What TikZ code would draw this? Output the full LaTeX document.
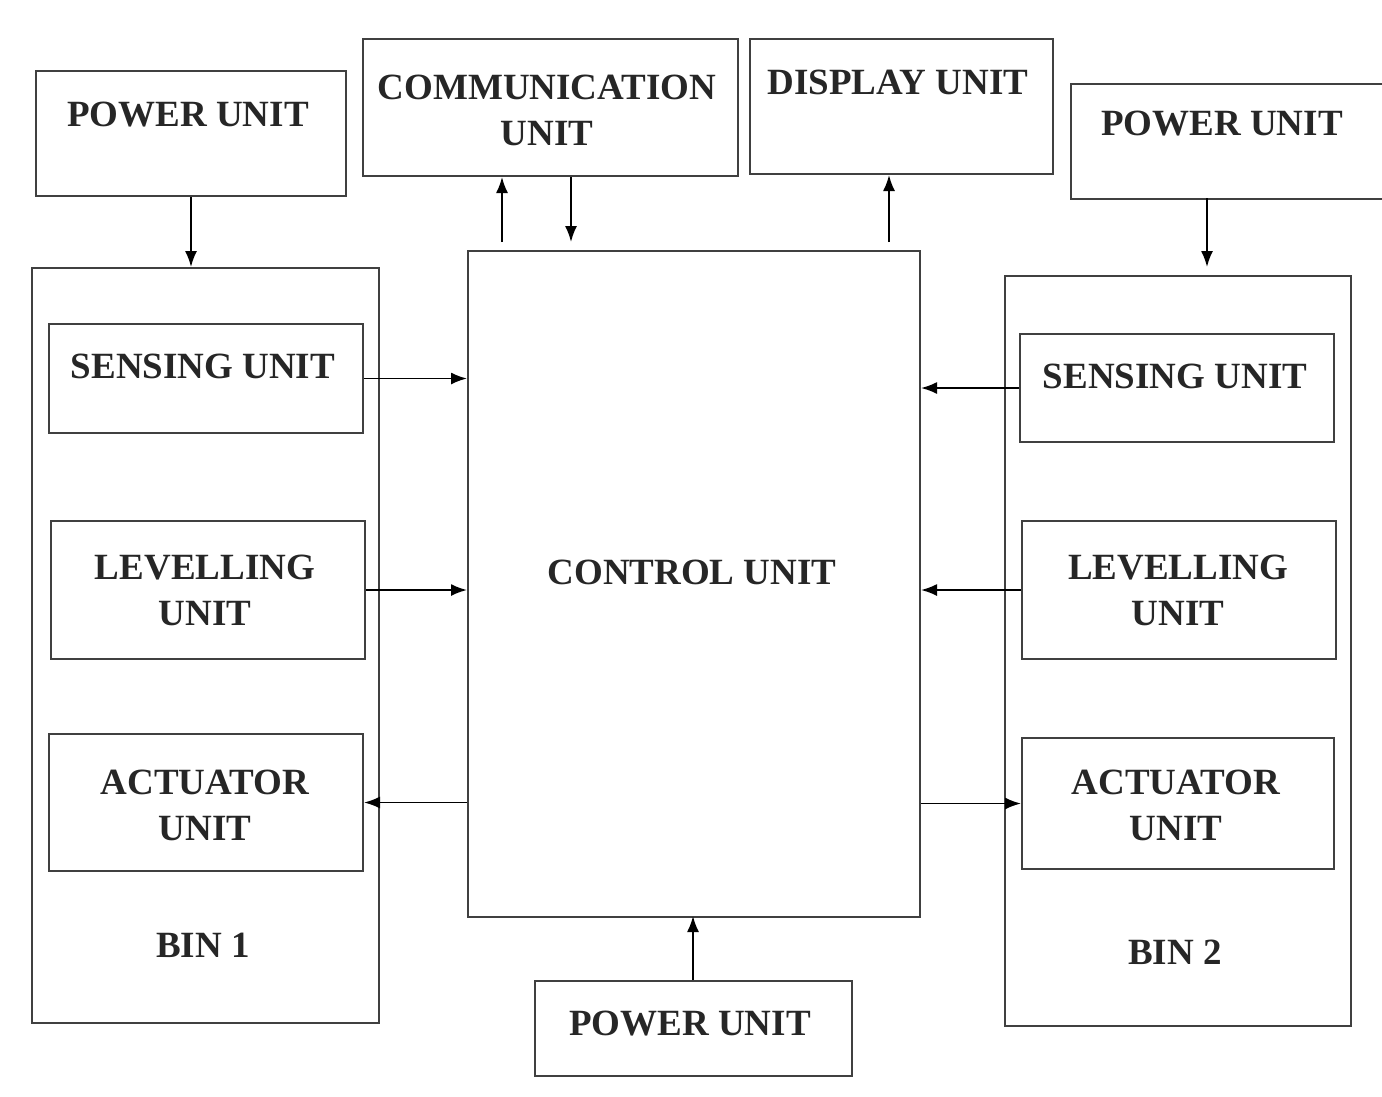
\documentclass[tikz,border=0pt]{standalone}
\usepackage{fontspec}
\setmainfont{Liberation Serif}
\usetikzlibrary{arrows.meta}
\begin{document}
\begin{tikzpicture}[x=1pt,y=-1pt,
 box/.style={draw=black!75,line width=2pt,anchor=north west,inner sep=0pt},
 lbl/.style={font=\fontsize{37}{46}\selectfont\bfseries,align=center,text=black!85},
 arr/.style={line width=1.8pt,-{Latex[length=16pt,width=12pt]}}]
\useasboundingbox (0,0) rectangle (1382,1096);
\newcommand\bx[5]{\node[box,minimum width=#4-#2,minimum height=#5-#3] (#1) at (#2,#3) {};}
\bx{pl}{35}{70}{345}{195}
\bx{comm}{362}{38}{737}{175}
\bx{disp}{749}{38}{1052}{173}
\bx{pr}{1070}{83}{1382}{198}
\bx{bin1}{31}{267}{378}{1022}
\bx{ctrl}{467}{250}{919}{916}
\bx{bin2}{1004}{275}{1350}{1025}
\bx{pb}{534}{980}{851}{1075}
\bx{s1}{48}{323}{362}{432}
\bx{l1}{50}{520}{364}{658}
\bx{a1}{48}{733}{362}{870}
\bx{s2}{1019}{333}{1333}{441}
\bx{l2}{1021}{520}{1335}{658}
\bx{a2}{1021}{737}{1333}{868}
\node[lbl] at (188,115) {POWER UNIT};
\node[lbl] at (547,110) {COMMUNICATION\\UNIT};
\node[lbl] at (898,82) {DISPLAY UNIT};
\node[lbl] at (1222,124) {POWER UNIT};
\node[lbl] at (203,366) {SENSING UNIT};
\node[lbl] at (205,590) {LEVELLING\\UNIT};
\node[lbl] at (205,805) {ACTUATOR\\UNIT};
\node[lbl] at (203,945) {BIN 1};
\node[lbl] at (692,572) {CONTROL UNIT};
\node[lbl] at (1175,376) {SENSING UNIT};
\node[lbl] at (1178,590) {LEVELLING\\UNIT};
\node[lbl] at (1176,805) {ACTUATOR\\UNIT};
\node[lbl] at (1175,952) {BIN 2};
\node[lbl] at (690,1024) {POWER UNIT};
\coordinate (c1) at (502,242); \coordinate (c2) at (571,242); \coordinate (c3) at (889,242);
\draw[arr] (pl.south) -- (pl.south |- bin1.north);
\draw[arr] (c1) -- (c1 |- comm.south);
\draw[arr] (c2 |- comm.south) -- (c2);
\draw[arr] (c3) -- (c3 |- disp.south);
\draw[arr] (1207,198) -- (1207,267);
\draw[arr] (s1.east) -- (s1.east -| ctrl.west);
\draw[arr] (l1.east) -- (l1.east -| ctrl.west);
\draw[arr] (a1.east -| ctrl.west) -- (a1.east);
\draw[arr] (s2.west) -- (s2.west -| ctrl.east);
\draw[arr] (l2.west) -- (l2.west -| ctrl.east);
\draw[arr] (a2.west -| ctrl.east) -- (a2.west);
\draw[arr] (693,980) -- (693,916);
\end{tikzpicture}
\end{document}
